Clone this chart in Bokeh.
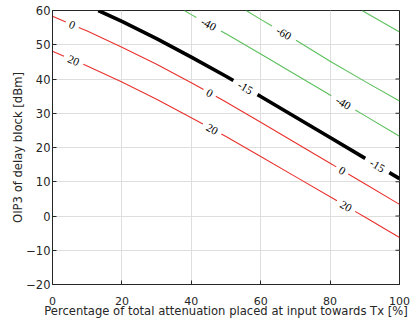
import numpy as np
from bokeh.plotting import figure
from bokeh.models import Range1d, FixedTicker, ColumnDataSource, LabelSet
from bokeh.embed import file_html
from bokeh.resources import INLINE

# ---- data (contour lines) ----
x_ticks = [0, 20, 40, 60, 80, 100]
y_ticks = [-20, -10, 0, 10, 20, 30, 40, 50, 60]

c0_x = [0, 10, 20, 30, 40, 50, 60, 70, 80, 90, 100]
c0_y = [58.3, 54.0, 49.3, 44.3, 38.9, 33.3, 27.4, 21.4, 15.4, 9.4, 3.4]
c20_x = [0, 10, 20, 30, 40, 50, 60, 70, 80, 90, 100]
c20_y = [48.1, 43.8, 39.1, 34.1, 28.7, 23.2, 17.4, 11.5, 5.6, -0.3, -6.3]
cm15_x = [13.2, 20, 30, 40, 50, 60, 70, 80, 90, 100]
cm15_y = [60, 56.8, 51.8, 46.4, 40.8, 34.9, 28.9, 22.9, 16.9, 10.9]
cm40_x = [38.0, 40, 50, 60, 70, 80, 90, 100]
cm40_y = [60, 58.8, 53.2, 47.3, 41.3, 35.3, 29.3, 23.3]
cm60_x = [55.8, 60, 70, 80, 90, 100]
cm60_y = [60, 57.4, 51.4, 45.2, 39.3, 33.6]
cm80_x = [89.2, 100]
cm80_y = [60, 53.7]

# label positions along each contour (x of label centre)
lab0_x = [5.7, 45.3, 83.5]
lab20_x = [6.1, 46.0, 84.6]
labm15_x = [55.6, 93.6]
labm40_x = [45.0, 83.8]
labm60_x = [66.7]

RED = "#e8322e"
GREEN = "#5cc05c"
BLACK = "#000000"
TXT = "#262626"

contours = [
    (c0_x, c0_y, RED, 1.1, "0", lab0_x),
    (c20_x, c20_y, RED, 1.1, "20", lab20_x),
    (cm15_x, cm15_y, BLACK, 3.6, "-15", labm15_x),
    (cm40_x, cm40_y, GREEN, 1.1, "-40", labm40_x),
    (cm60_x, cm60_y, GREEN, 1.1, "-60", labm60_x),
    (cm80_x, cm80_y, GREEN, 1.1, None, []),
]

W, H = 412, 320
ML, MR, MT, MB = 52, 13, 10, 35
frame_w, frame_h = W - ML - MR, H - MT - MB

p = figure(width=W, height=H, output_backend="svg", toolbar_location=None,
           x_range=Range1d(0, 100), y_range=Range1d(-20, 60),
           min_border_left=ML, min_border_right=MR, min_border_top=MT,
           min_border_bottom=MB)
p.background_fill_color = "white"
p.border_fill_color = "white"
p.outline_line_color = TXT
p.outline_line_width = 1

for ax in (p.xaxis[0], p.yaxis[0]):
    ax.axis_line_color = TXT
    ax.major_tick_line_color = TXT
    ax.major_tick_in = 4
    ax.major_tick_out = 0
    ax.minor_tick_line_color = None
    ax.major_label_text_font = "DejaVu Sans"
    ax.major_label_text_font_size = "11px"
    ax.major_label_text_color = TXT
    ax.axis_label_text_font = "DejaVu Sans"
    ax.axis_label_text_font_size = "11.6px"
    ax.axis_label_text_font_style = "normal"
    ax.axis_label_text_color = TXT

p.yaxis[0].major_label_text_font_size = "11.5px"
p.xaxis[0].ticker = FixedTicker(ticks=x_ticks)
p.yaxis[0].ticker = FixedTicker(ticks=y_ticks)
p.xaxis[0].axis_label = "Percentage of total attenuation placed at input towards Tx [%]"
p.yaxis[0].axis_label = "OIP3 of delay block [dBm]"
p.xaxis[0].major_label_standoff = 12
p.xaxis[0].axis_label_standoff = -4
p.yaxis[0].major_label_standoff = 2
p.yaxis[0].axis_label_standoff = -2

# inward tick marks on the right edge of the box
p.scatter(x=[x_ticks[-1]] * len(y_ticks), y=y_ticks, marker="dash", size=8,
          line_color=TXT, line_width=1)

p.xgrid.ticker = FixedTicker(ticks=x_ticks)
p.ygrid.ticker = FixedTicker(ticks=y_ticks)
p.grid.grid_line_color = "#dedede"
p.grid.grid_line_width = 1

sx = frame_w / 100.0
sy = frame_h / 80.0
CHAR_PX = 7.0
PAD_PX = 7.0

lx, ly, lt, la = [], [], [], []
for xs, ys, col, lw, txt, labs in contours:
    gaps = []
    for xl in labs:
        yl = float(np.interp(xl, xs, ys))
        y1 = float(np.interp(xl - 3, xs, ys))
        y2 = float(np.interp(xl + 3, xs, ys))
        ang = float(np.arctan2((y2 - y1) * sy, 6 * sx))
        half = (len(txt) * CHAR_PX + PAD_PX) / 2.0 * np.cos(ang) / sx
        gaps.append((xl - half, xl + half))
        lx.append(xl); ly.append(yl); lt.append(txt); la.append(ang)
    # break the polyline where labels sit
    bounds = []
    prev = xs[0]
    for g0, g1 in sorted(gaps):
        bounds.append((prev, g0))
        prev = g1
    bounds.append((prev, xs[-1]))
    bx, by = [], []
    for a, b in bounds:
        if b <= a:
            continue
        inner = [(xv, yv) for xv, yv in zip(xs, ys) if a < xv < b]
        seg = [(a, float(np.interp(a, xs, ys)))] + inner + [(b, float(np.interp(b, xs, ys)))]
        for xv, yv in seg:
            bx.append(xv); by.append(yv)
        bx.append(np.nan); by.append(np.nan)
    p.line(bx, by, line_color=col, line_width=lw, line_join="round")

src = ColumnDataSource(dict(x=lx, y=ly, text=lt, angle=la))
labels = LabelSet(x="x", y="y", text="text", angle="angle", source=src,
                  text_align="center", text_baseline="middle",
                  text_font="DejaVu Sans", text_font_size="11.5px",
                  text_color="black")
p.add_layout(labels)

open("out.html", "w").write(file_html(p, INLINE))
